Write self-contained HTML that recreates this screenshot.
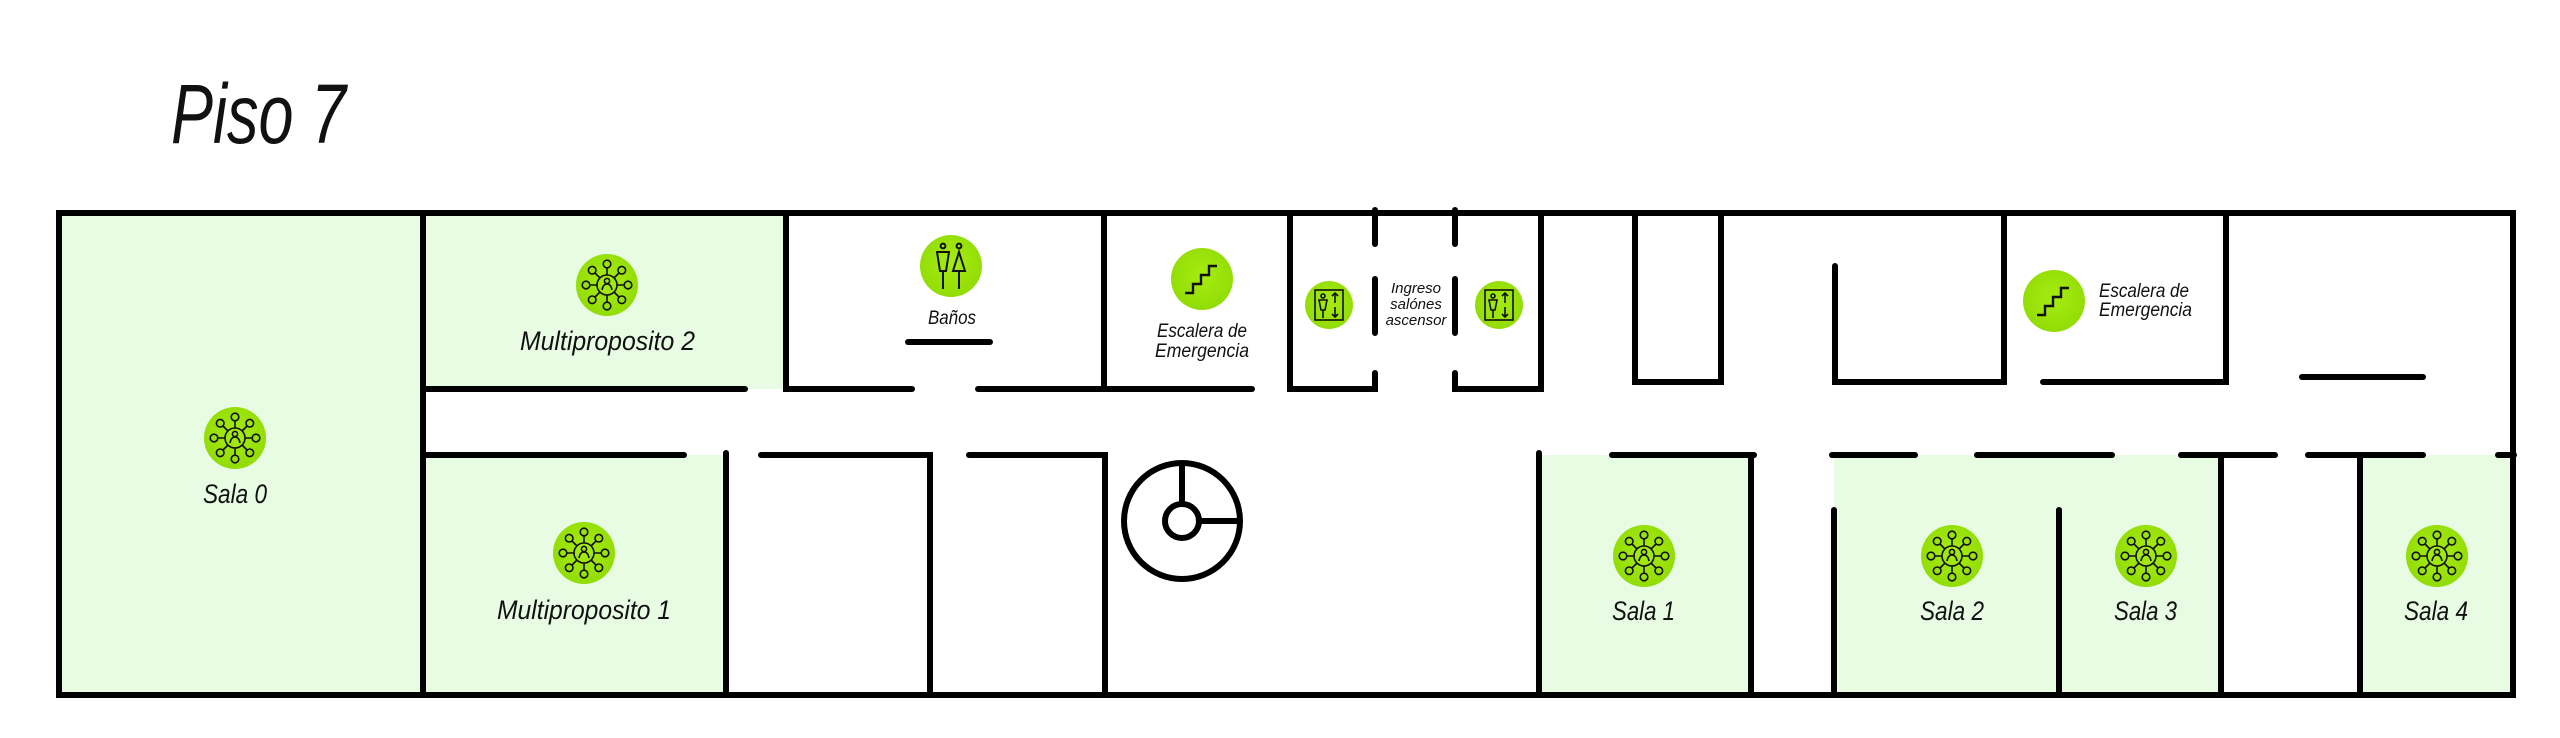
<!DOCTYPE html>
<html><head><meta charset="utf-8"><style>
html,body{margin:0;padding:0;background:#fff}
svg{display:block}
text{font-family:"Liberation Sans",sans-serif;font-style:italic;fill:#111}
</style></head><body>
<svg width="2560" height="738" viewBox="0 0 2560 738" xmlns="http://www.w3.org/2000/svg">
<defs>
<radialGradient id="g" cx="50%" cy="45%" r="55%"><stop offset="0" stop-color="#a6ec10"/><stop offset="1" stop-color="#92dc06"/></radialGradient>
<g id="net">
<circle r="31" fill="url(#g)"/>
<g fill="none" stroke="#111" stroke-width="1.6">
<circle r="10"/>
<circle cx="0" cy="-4" r="2.6"/>
<path d="M-5 5 Q-4 -1 0 -1 Q4 -1 5 5"/>
<circle cx="0" cy="-21" r="3.8"/><circle cx="0" cy="21" r="3.8"/>
<circle cx="-21" cy="0" r="3.8"/><circle cx="21" cy="0" r="3.8"/>
<circle cx="-14.8" cy="-14.8" r="3.8"/><circle cx="14.8" cy="-14.8" r="3.8"/>
<circle cx="-14.8" cy="14.8" r="3.8"/><circle cx="14.8" cy="14.8" r="3.8"/>
<path d="M0 -10V-17M0 10V17M-10 0H-17M10 0H17M-7 -7L-12 -12M7 -7L12 -12M-7 7L-12 12M7 7L12 12"/>
</g></g>
<g id="stairs">
<circle r="31" fill="url(#g)"/>
<path d="M-17 14H-9V5H-1V-4H7V-13H15" fill="none" stroke="#111" stroke-width="2.4"/>
</g>
<g id="elev">
<circle r="24" fill="url(#g)"/>
<g fill="none" stroke="#111" stroke-width="1.6">
<rect x="-14" y="-15" width="28" height="30"/>
<circle cx="-6" cy="-9" r="2"/>
<path d="M-10 -5H-2L-4 5H-8Z M-6 5V13"/>
<path d="M6 -2V-12M3 -9L6 -12L9 -9M6 2V12M3 9L6 12L9 9"/>
</g></g>
<g id="wc">
<circle r="31" fill="url(#g)"/>
<g fill="none" stroke="#111" stroke-width="2">
<circle cx="-8" cy="-20" r="2.4"/><circle cx="8" cy="-20" r="2.4"/>
<path d="M-14 -14H-2L-5 5H-11Z M-8 5V23"/>
<path d="M8 -14L14 5H2Z M8 5V23"/>
</g></g>
</defs>

<!-- green rooms -->
<g fill="#e8fce4">
<rect x="59" y="213" width="364" height="482"/>
<rect x="423" y="213" width="363" height="176"/>
<rect x="423" y="455" width="303" height="240"/>
<rect x="1539" y="455" width="212" height="240"/>
<rect x="1834" y="455" width="387" height="240"/>
<rect x="2360" y="455" width="153" height="240"/>
</g>

<!-- title -->
<text x="171" y="143" font-size="84" textLength="175" lengthAdjust="spacingAndGlyphs">Piso 7</text>

<!-- walls -->
<g stroke="#000" stroke-width="6" stroke-linecap="round" fill="none">
<rect x="59" y="213" width="2454" height="482" stroke-linecap="butt"/>
<path d="M423 213V695"/>
<path d="M423 389H745"/>
<path d="M786 213V389H912"/>
<path d="M978 389H1252"/>
<path d="M908 342H990"/>
<path d="M1104 213V389"/>
<path d="M1290 213V389H1375V373"/>
<path d="M1375 210V244M1455 210V244M1375 279V333M1455 279V333"/>
<path d="M1455 373V389H1541V213"/>
<path d="M1635 213V382H1721V213"/>
<path d="M1835 266V382H2004V213"/>
<path d="M2043 382H2226V213"/>
<path d="M2302 377H2423"/>
<path d="M423 455H684"/>
<path d="M726 453V695"/>
<path d="M761 455H930V695"/>
<path d="M969 455H1105V695"/>
<path d="M1539 453V695"/>
<path d="M1612 455H1754"/>
<path d="M1751 455V695"/>
<path d="M1834 510V695"/>
<path d="M1832 455H1915"/>
<path d="M1977 455H2112"/>
<path d="M2059 510V695"/>
<path d="M2181 455H2275"/>
<path d="M2221 455V695"/>
<path d="M2308 455H2423"/>
<path d="M2360 455V695"/>
<path d="M2498 455H2514"/>
<circle cx="1182" cy="521" r="58"/>
<circle cx="1182" cy="521" r="17"/>
<path d="M1182 463V504M1199 521H1240" stroke-linecap="butt"/>
</g>

<!-- icons -->
<use href="#net" x="607" y="285"/>
<use href="#net" x="235" y="438"/>
<use href="#net" x="584" y="553"/>
<use href="#net" x="1644" y="556"/>
<use href="#net" x="1952" y="556"/>
<use href="#net" x="2146" y="556"/>
<use href="#net" x="2437" y="556"/>
<use href="#wc" x="951" y="266"/>
<use href="#stairs" x="1202" y="279"/>
<use href="#stairs" x="2054" y="301"/>
<use href="#elev" x="1329" y="305"/>
<use href="#elev" x="1499" y="305"/>

<!-- labels -->
<g font-size="27">
<text x="520" y="350" textLength="175" lengthAdjust="spacingAndGlyphs">Multiproposito 2</text>
<text x="203" y="503" textLength="64" lengthAdjust="spacingAndGlyphs">Sala 0</text>
<text x="497" y="619" textLength="174" lengthAdjust="spacingAndGlyphs">Multiproposito 1</text>
<text x="1612" y="620" textLength="63" lengthAdjust="spacingAndGlyphs">Sala 1</text>
<text x="1920" y="620" textLength="64" lengthAdjust="spacingAndGlyphs">Sala 2</text>
<text x="2114" y="620" textLength="63" lengthAdjust="spacingAndGlyphs">Sala 3</text>
<text x="2404" y="620" textLength="64" lengthAdjust="spacingAndGlyphs">Sala 4</text>
</g>
<g font-size="19">
<text x="928" y="324" textLength="48" lengthAdjust="spacingAndGlyphs">Baños</text>
<text x="1157" y="337" textLength="90" lengthAdjust="spacingAndGlyphs">Escalera de</text>
<text x="1155" y="357" textLength="94" lengthAdjust="spacingAndGlyphs">Emergencia</text>
<text x="2099" y="297" textLength="90" lengthAdjust="spacingAndGlyphs">Escalera de</text>
<text x="2099" y="316" textLength="93" lengthAdjust="spacingAndGlyphs">Emergencia</text>
</g>
<g font-size="15" text-anchor="middle">
<text x="1416" y="293">Ingreso</text>
<text x="1416" y="309">salónes</text>
<text x="1416" y="325">ascensor</text>
</g>
</svg>
</body></html>
